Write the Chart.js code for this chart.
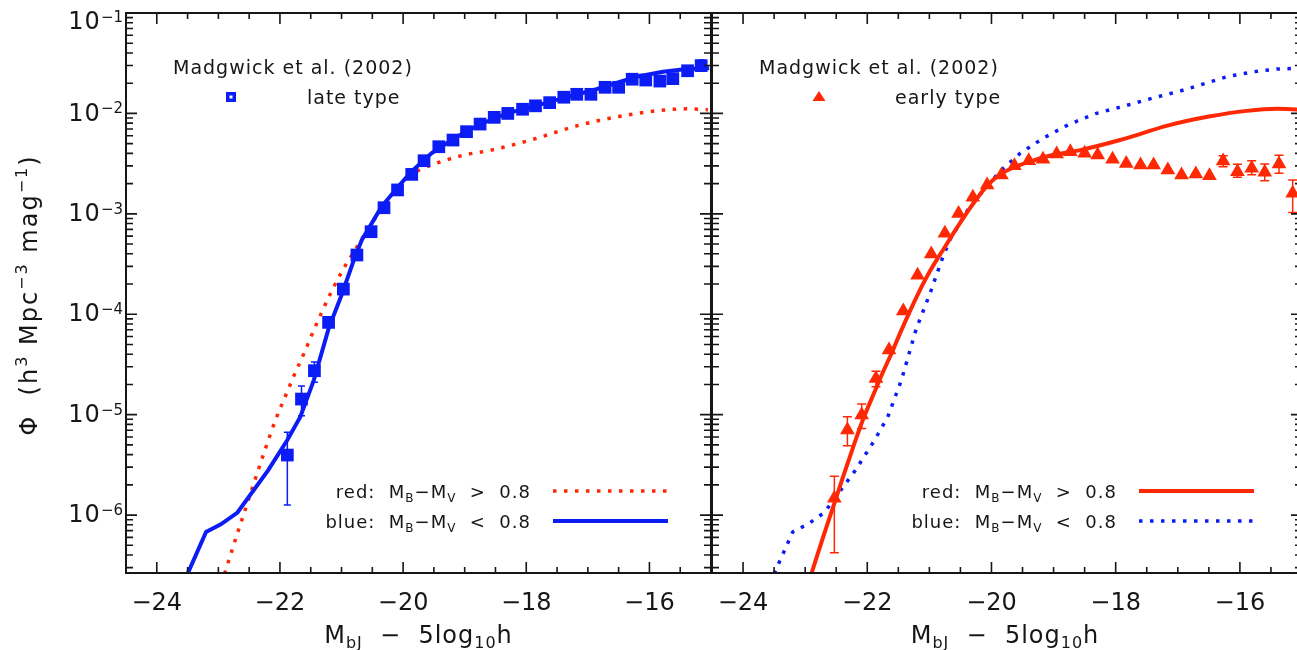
<!DOCTYPE html>
<html>
<head>
<meta charset="utf-8">
<script src="https://cdn.jsdelivr.net/npm/chart.js@4"></script>
<style>
  html, body { margin: 0; padding: 0; background: #fff; overflow: hidden; }
  body { width: 1297px; height: 650px; position: relative; }
  #wrapL { position: absolute; left: 0; top: 0; width: 720px; height: 650px; }
  #wrapR { position: absolute; left: 640px; top: 0; width: 680px; height: 650px; }
</style>
</head>
<body>
<div id="wrapL"><canvas id="left"></canvas></div>
<div id="wrapR"><canvas id="right"></canvas></div>
<script>
// Model luminosity functions: magnitude and phi
const RED_MODEL_MAG = [-22.90, -22.69, -22.55, -22.39, -22.23, -22.07, -21.88, -21.75, -21.61, -21.48,
  -21.32, -21.16, -20.99, -20.75, -20.56, -20.32, -20.11, -19.89, -19.63, -19.33,
  -19.01, -18.57, -17.93, -17.15, -16.50, -15.89, -15.40, -15.05];
const RED_MODEL_PHI = [2.6e-7, 6.6e-7, 1.2e-6, 2.4e-6, 4.7e-6, 8.9e-6, 1.70e-5, 2.63e-5, 4.07e-5, 6.3e-5,
  1.05e-4, 1.70e-4, 2.69e-4, 4.68e-4, 7.2e-4, 1.20e-3, 1.78e-3, 2.40e-3, 2.92e-3, 3.39e-3,
  3.85e-3, 4.31e-3, 5.43e-3, 7.6e-3, 9.3e-3, 1.06e-2, 1.11e-2, 1.09e-2];

const BLUE_MODEL_MAG = [-23.50, -23.20, -22.96, -22.69, -22.19, -21.88, -21.67, -21.45, -21.21, -20.99,
  -20.80, -20.67, -20.35, -20.08, -19.87, -19.54, -19.17, -18.75, -18.31, -17.85,
  -17.39, -16.95, -16.64, -16.21, -15.78, -15.40, -15.03];
const BLUE_MODEL_PHI = [2.6e-7, 6.8e-7, 8.1e-7, 1.06e-6, 2.8e-6, 5.6e-6, 9.5e-6, 2.21e-5, 7.2e-5, 1.61e-4,
  3.47e-4, 5.5e-4, 1.18e-3, 1.86e-3, 2.62e-3, 4.0e-3, 5.65e-3, 7.8e-3, 1.0e-2, 1.19e-2,
  1.43e-2, 1.68e-2, 1.92e-2, 2.32e-2, 2.60e-2, 2.77e-2, 2.81e-2];

// Madgwick et al. (2002), late type
const LATE_MAG = [-21.88, -21.65, -21.44, -21.21, -20.97, -20.75, -20.52, -20.31, -20.09, -19.86,
  -19.66, -19.42, -19.19, -18.97, -18.75, -18.52, -18.30, -18.06, -17.85, -17.62,
  -17.39, -17.18, -16.95, -16.72, -16.50, -16.28, -16.06, -15.83, -15.62, -15.38, -15.16];
const LATE_PHI = [3.96e-6, 1.43e-5, 2.74e-5, 8.3e-5, 1.78e-4, 3.89e-4, 6.64e-4, 1.15e-3, 1.73e-3, 2.47e-3,
  3.38e-3, 4.66e-3, 5.43e-3, 6.58e-3, 7.83e-3, 9.14e-3, 1.00e-2, 1.10e-2, 1.19e-2, 1.28e-2,
  1.45e-2, 1.55e-2, 1.55e-2, 1.82e-2, 1.82e-2, 2.19e-2, 2.15e-2, 2.10e-2, 2.22e-2, 2.66e-2, 2.99e-2];
const LATE_LO = [1.26e-6, 9.75e-6, 2.10e-5, 7.6e-5, null, null, null, null, null, null,
  null, null, null, null, null, null, null, null, null, null,
  null, null, null, null, null, null, null, null, null, 2.45e-2, 2.75e-2];
const LATE_HI = [6.67e-6, 1.93e-5, 3.34e-5, 9.1e-5, null, null, null, null, null, null,
  null, null, null, null, null, null, null, null, null, null,
  null, null, null, null, null, null, null, null, null, 2.88e-2, 3.4e-2];

// Madgwick et al. (2002), early type
const EARLY_MAG = [-22.53, -22.32, -22.09, -21.86, -21.65, -21.42, -21.19, -20.97, -20.75, -20.53,
  -20.30, -20.07, -19.84, -19.63, -19.40, -19.17, -18.95, -18.73, -18.50, -18.29,
  -18.05, -17.83, -17.60, -17.39, -17.16, -16.94, -16.71, -16.49, -16.27, -16.04,
  -15.81, -15.60, -15.37, -15.15];
const EARLY_PHI = [1.47e-6, 7.03e-6, 9.91e-6, 2.29e-5, 4.40e-5, 1.08e-4, 2.45e-4, 3.98e-4, 6.40e-4, 1.01e-3,
  1.46e-3, 1.94e-3, 2.43e-3, 3.01e-3, 3.38e-3, 3.49e-3, 3.94e-3, 4.16e-3, 4.01e-3, 3.85e-3,
  3.49e-3, 3.18e-3, 3.06e-3, 3.06e-3, 2.73e-3, 2.43e-3, 2.49e-3, 2.40e-3, 3.36e-3, 2.62e-3,
  2.84e-3, 2.59e-3, 3.13e-3, 1.60e-3];
const EARLY_LO = [4.22e-7, 4.90e-6, 7.30e-6, 1.9e-5, null, null, null, null, null, null,
  null, null, null, null, null, null, null, null, null, null,
  null, null, null, null, null, null, null, null, 2.95e-3, 2.31e-3,
  2.45e-3, 2.14e-3, 2.53e-3, 1.03e-3];
const EARLY_HI = [2.44e-6, 9.53e-6, 1.28e-5, 2.7e-5, null, null, null, null, null, null,
  null, null, null, null, null, null, null, null, null, null,
  null, null, null, null, null, null, null, null, 3.79e-3, 3.11e-3,
  3.38e-3, 3.13e-3, 3.83e-3, 2.17e-3];

// axes
const X_MIN = -24.5, X_MAX = -15;
const X_MAJOR = [-24, -22, -20, -18, -16];
const Y_MIN = 2.65e-7, Y_MAX = 0.1;
const Y_DECADES = [-6, -5, -4, -3, -2, -1];

const INK = '#161616';
const RED = 'rgb(255, 40, 4)';
const BLUE = 'rgb(12, 28, 245)';
const FONT = "'DejaVu Sans', sans-serif";

const pts = (xs, ys) => xs.map((v, i) => ({ x: v, y: ys[i] }));

function setFont(ctx, size) { ctx.font = size + 'px ' + FONT; }

// draw text with sub/superscripts: parts = [[text, mode]] mode 0 normal, 1 sup, -1 sub
function drawRich(ctx, parts, x, y, size, align) {
    const small = Math.round(size * 0.66);
    let total = 0;
    for (const [t, m] of parts) { setFont(ctx, m ? small : size); total += ctx.measureText(t).width; }
    let cx = align === 'center' ? x - total / 2 : (align === 'right' ? x - total : x);
    ctx.textAlign = 'left';
    ctx.textBaseline = 'alphabetic';
    for (const [t, m] of parts) {
        setFont(ctx, m ? small : size);
        const dy = m === 1 ? -size * 0.42 : (m === -1 ? size * 0.22 : 0);
        ctx.fillText(t, cx, y + dy);
        cx += ctx.measureText(t).width;
    }
}

const errorBarPlugin = {
    id: 'errorBars',
    beforeDatasetsDraw(chart) {
        const { ctx, scales: { x, y } } = chart;
        ctx.save();
        chart.data.datasets.forEach(ds => {
            if (!ds.errLo) return;
            ctx.strokeStyle = ds.borderColor;
            ctx.lineWidth = 1.5;
            ds.data.forEach((p, i) => {
                const lo = ds.errLo[i], hi = ds.errHi[i];
                if (lo == null) return;
                const px = x.getPixelForValue(p.x);
                const y1 = y.getPixelForValue(lo), y2 = y.getPixelForValue(hi);
                ctx.beginPath();
                ctx.moveTo(px, y1); ctx.lineTo(px, y2);
                ctx.moveTo(px - ds.capHalf, y1); ctx.lineTo(px + ds.capHalf, y1);
                ctx.moveTo(px - ds.capHalf, y2); ctx.lineTo(px + ds.capHalf, y2);
                ctx.stroke();
            });
        });
        ctx.restore();
    }
};

const panelPlugin = {
    id: 'panel',
    afterDatasetsDraw(chart, args, opts) {
        const { ctx, chartArea: a, scales: { x, y } } = chart;
        ctx.save();
        ctx.strokeStyle = INK;
        ctx.fillStyle = INK;

        // inward tick marks on all four sides
        ctx.lineWidth = 1.6;
        ctx.beginPath();
        for (let v = X_MIN; v <= X_MAX + 1e-9; v += 0.5) {
            const px = x.getPixelForValue(v);
            const len = X_MAJOR.includes(v) ? 11 : 6;
            ctx.moveTo(px, a.bottom); ctx.lineTo(px, a.bottom - len);
            ctx.moveTo(px, a.top); ctx.lineTo(px, a.top + len);
        }
        for (let d = -7; d <= -1; d++) {
            for (let k = 1; k <= 9; k++) {
                const v = k * Math.pow(10, d);
                if (v < y.min * 0.999 || v > y.max * 1.001) continue;
                const py = y.getPixelForValue(v);
                const len = k === 1 ? 11 : 7;
                ctx.moveTo(a.left, py); ctx.lineTo(a.left + len, py);
                ctx.moveTo(a.right, py); ctx.lineTo(a.right - len, py);
            }
        }
        ctx.stroke();
        ctx.lineWidth = 2;
        ctx.strokeRect(a.left, a.top, a.right - a.left, a.bottom - a.top);

        // x tick labels
        setFont(ctx, 24);
        ctx.textAlign = 'center';
        ctx.textBaseline = 'middle';
        x.ticks.forEach(t => {
            ctx.fillText('\u2212' + Math.abs(t.value), x.getPixelForValue(t.value), a.bottom + 31);
        });

        // y tick labels 10^n
        if (opts.yLabels) {
            y.ticks.forEach(t => {
                const py = y.getPixelForValue(t.value);
                const n = Math.round(Math.log10(t.value));
                const cy = Math.max(py, a.top + 9) + 1;
                ctx.textAlign = 'right';
                ctx.textBaseline = 'middle';
                setFont(ctx, 15);
                const ex = '\u2212' + Math.abs(n);
                const ew = ctx.measureText(ex).width;
                ctx.fillText(ex, a.left - 3, cy - 5);
                setFont(ctx, 24);
                ctx.letterSpacing = '1px';
                ctx.fillText('10', a.left - 3 - ew, cy);
                ctx.letterSpacing = '0px';
            });
            // y title
            ctx.save();
            ctx.translate(37, 295);
            ctx.rotate(-Math.PI / 2);
            ctx.letterSpacing = '2px';
            drawRich(ctx, [['\u03A6  (h', 0], ['3', 1], [' Mpc', 0], ['\u22123', 1], [' mag', 0], ['\u22121', 1], [')', 0]], 0, 0, 24, 'center');
            ctx.letterSpacing = '0px';
            ctx.restore();
        }

        // x title
        ctx.letterSpacing = '1px';
        drawRich(ctx, [['M', 0], ['bJ', -1], ['  \u2212  5log', 0], ['10', -1], ['h', 0]],
            (a.left + a.right) / 2 - (opts.yLabels ? 0 : 2), 643, 24, 'center');

        // legend: data source
        drawRich(ctx, [[opts.source, 0]], a.left + 47, 74, 19, 'left');
        drawRich(ctx, [[opts.markerText, 0]], a.left + opts.markerTextX, 104, 19, 'left');
        const mx = a.left + 105, my = 97;
        if (opts.marker === 'rect') {
            ctx.fillStyle = BLUE;
            ctx.fillRect(mx - 5, my - 5, 10, 10);
            ctx.fillStyle = '#fff';
            ctx.fillRect(mx - 1.5, my - 1.5, 3, 3);
        } else {
            ctx.fillStyle = RED;
            ctx.beginPath();
            ctx.moveTo(mx + 2, my - 6); ctx.lineTo(mx + 8.5, my + 4); ctx.lineTo(mx - 4.5, my + 4);
            ctx.closePath();
            ctx.fill();
        }
        ctx.fillStyle = INK;

        // legend: model lines
        opts.rows.forEach((r, i) => {
            const ly = 491 + i * 30;
            ctx.fillStyle = INK;
            drawRich(ctx, r.label, a.left + 405, ly + 7, 18, 'right');
            ctx.beginPath();
            ctx.strokeStyle = r.color;
            ctx.lineWidth = r.dash ? 3.5 : 4;
            ctx.setLineDash(r.dash || []);
            ctx.moveTo(a.left + 427, ly);
            ctx.lineTo(a.left + 542, ly);
            ctx.stroke();
            ctx.setLineDash([]);
        });
        ctx.letterSpacing = '0px';
        ctx.restore();
    }
};

const DOTS = [3.5, 7.5];
const redLbl = [['red:  M', 0], ['B', -1], ['\u2212M', 0], ['V', -1], ['  >  0.8', 0]];
const blueLbl = [['blue:  M', 0], ['B', -1], ['\u2212M', 0], ['V', -1], ['  <  0.8', 0]];

function makeChart(id, datasets, cfg) {
    return new Chart(document.getElementById(id), {
        type: 'scatter',
        data: { datasets },
        options: {
            responsive: true,
            maintainAspectRatio: false,
            animation: false,
            devicePixelRatio: 1,
            events: [],
            layout: { padding: { top: 13, right: cfg.padRight, left: 0, bottom: 0 } },
            plugins: {
                legend: { display: false },
                tooltip: { enabled: false },
                panel: cfg.panel
            },
            scales: {
                x: {
                    type: 'linear', min: X_MIN, max: X_MAX,
                    afterBuildTicks: s => { s.ticks = X_MAJOR.map(v => ({ value: v })); },
                    afterFit: s => { s.height = 77; },
                    ticks: { display: false },
                    grid: { display: false, drawTicks: false },
                    border: { display: false }
                },
                y: {
                    type: 'logarithmic', min: Y_MIN, max: Y_MAX,
                    afterBuildTicks: s => { s.ticks = Y_DECADES.map(d => ({ value: Math.pow(10, d) })); },
                    afterFit: s => { s.width = cfg.yWidth; },
                    ticks: { display: false },
                    grid: { display: false, drawTicks: false },
                    border: { display: false }
                }
            }
        },
        plugins: [errorBarPlugin, panelPlugin]
    });
}

// left panel: late types
makeChart('left', [
    {
        data: pts(LATE_MAG, LATE_PHI), errLo: LATE_LO, errHi: LATE_HI, capHalf: 3.5,
        pointStyle: 'rect', pointRadius: 9, pointHoverRadius: 9,
        backgroundColor: BLUE, borderColor: BLUE, borderWidth: 0
    },
    {
        data: pts(BLUE_MODEL_MAG, BLUE_MODEL_PHI), showLine: true, pointRadius: 0,
        borderColor: BLUE, borderWidth: 4, tension: 0
    },
    {
        data: pts(RED_MODEL_MAG, RED_MODEL_PHI), showLine: true, pointRadius: 0,
        borderColor: RED, borderWidth: 3.5, borderDash: DOTS, borderCapStyle: 'butt',
        cubicInterpolationMode: 'monotone'
    }
], {
    padRight: 8, yWidth: 126,
    panel: {
        yLabels: true, source: 'Madgwick et al. (2002)', marker: 'rect',
        markerText: 'late type', markerTextX: 181,
        rows: [{ label: redLbl, color: RED, dash: DOTS }, { label: blueLbl, color: BLUE }]
    }
});

// right panel: early types
makeChart('right', [
    {
        data: pts(EARLY_MAG, EARLY_PHI), errLo: EARLY_LO, errHi: EARLY_HI, capHalf: 4.5,
        pointStyle: 'triangle', pointRadius: 8.5, pointHoverRadius: 8.5,
        backgroundColor: RED, borderColor: RED, borderWidth: 0
    },
    {
        data: pts(RED_MODEL_MAG, RED_MODEL_PHI), showLine: true, pointRadius: 0,
        borderColor: RED, borderWidth: 4, cubicInterpolationMode: 'monotone'
    },
    {
        data: pts(BLUE_MODEL_MAG, BLUE_MODEL_PHI), showLine: true, pointRadius: 0,
        borderColor: BLUE, borderWidth: 3.5, borderDash: DOTS, borderCapStyle: 'butt', tension: 0
    }
], {
    padRight: 18, yWidth: 72,
    panel: {
        yLabels: false, source: 'Madgwick et al. (2002)', marker: 'triangle',
        markerText: 'early type', markerTextX: 183,
        rows: [{ label: redLbl, color: RED }, { label: blueLbl, color: BLUE, dash: DOTS }]
    }
});
</script>
</body>
</html>
